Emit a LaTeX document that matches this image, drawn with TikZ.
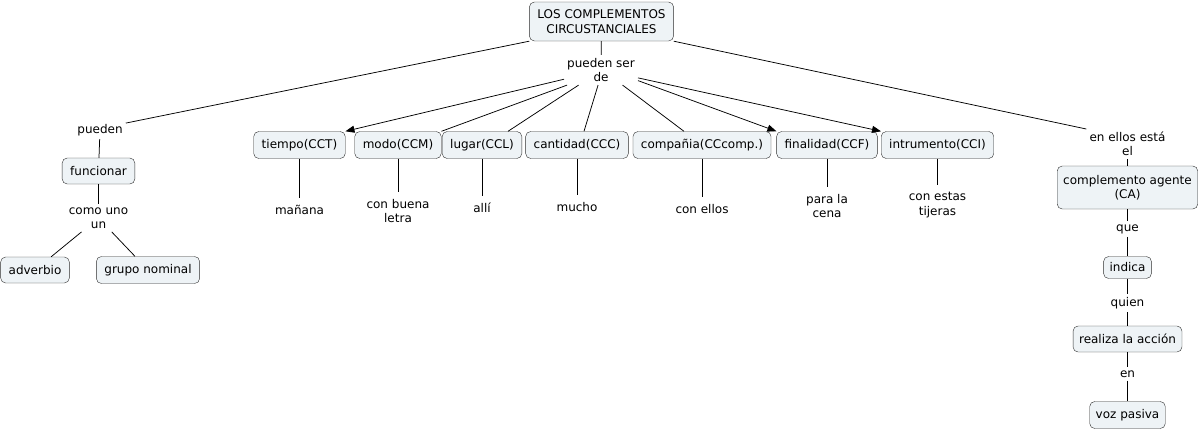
\documentclass[tikz,border=0pt]{standalone}
\usepackage{fontspec}
\setmainfont{DejaVu Sans}
\usetikzlibrary{arrows.meta}
\definecolor{boxfill}{RGB}{238,243,246}
\definecolor{boxline}{RGB}{45,45,45}
\begin{document}
\begin{tikzpicture}[x=1pt,y=-1pt,
    font=\fontsize{12}{14.5}\selectfont,
    concept/.style={draw=boxline,fill=boxfill,rounded corners=5pt,
      inner xsep=8pt,inner ysep=4pt,minimum height=27pt,align=center},
    phrase/.style={inner sep=3pt,align=center},
    example/.style={inner xsep=3pt,inner ysep=7pt,align=center},
    tip/.style={-{Triangle[length=9pt,width=7pt]}}]
  \useasboundingbox (0,0) rectangle (1202,429);
  \draw
    (601.5,21.5) node[concept,minimum height=39pt] (main){LOS COMPLEMENTOS\\CIRCUSTANCIALES}
    (601,70) node[phrase] (pser){pueden ser\\de}
    (100,130) node[phrase] (pueden){pueden}
    (98.5,171) node[concept,minimum height=26pt] (func){funcionar}
    (98.5,218) node[phrase] (como){como uno\\un}
    (35,270) node[concept,minimum height=26pt] (adverbio){adverbio}
    (148,270) node[concept] (grupo){grupo nominal}
    (299.5,145) node[concept] (tiempo){tiempo(CCT)}
    (398,145) node[concept] (modo){modo(CCM)}
    (482,145) node[concept] (lugar){lugar(CCL)}
    (577,145) node[concept] (cantidad){cantidad(CCC)}
    (702,145) node[concept] (comp){compañia(CCcomp.)}
    (827,145) node[concept] (final){finalidad(CCF)}
    (937.5,145) node[concept] (instr){intrumento(CCI)}
    (299.5,210) node[example] (manana){mañana}
    (398,211) node[example] (buena){con buena\\letra}
    (482,208) node[example] (alli){allí}
    (577,207) node[example] (mucho){mucho}
    (702,209) node[example] (ellos){con ellos}
    (827,206) node[example] (cena){para la\\cena}
    (937.5,205) node[example] (tijeras){con estas\\tijeras}
    (1127.5,144) node[phrase] (enellos){en ellos está\\el}
    (1127.5,187.5) node[concept,inner xsep=6pt,minimum height=43pt] (agente){complemento agente\\(CA)}
    (1127.5,229) node[phrase] (que){que}
    (1127.5,267.5) node[concept,inner xsep=6pt,minimum height=22pt] (indica){indica}
    (1127.5,303) node[phrase] (quien){quien}
    (1127.5,339) node[concept,inner xsep=6pt,minimum height=26pt] (accion){realiza la acción}
    (1127.5,374) node[phrase] (en){en}
    (1127.5,415) node[concept,inner xsep=6pt,minimum height=27pt] (pasiva){voz pasiva};
  \begin{scope}[line width=0.75pt]
    \draw (main) to (pser);
    \draw (main.south west) to (pueden.15);
    \draw (main.south east) to (enellos.160);
    \draw (pueden) to (func);
    \draw (func) to (como);
    \draw (como) to (adverbio);
    \draw (como) to (grupo);
    \draw[tip] (pser.194) to (tiempo.north east);
    \draw (pser.204) to (modo.north east);
    \draw (pser.214) to ([xshift=26pt]lugar.north);
    \draw (pser.259) to ([xshift=7pt]cantidad.north);
    \draw (pser.325) to ([xshift=-18pt]comp.north);
    \draw[tip] (pser.344) to (final.north west);
    \draw[tip] (pser.348) to (instr.north west);
    \draw (tiempo) to (manana);
    \draw (modo) to (buena);
    \draw (lugar) to (alli);
    \draw (cantidad) to (mucho);
    \draw (comp) to (ellos);
    \draw (final) to (cena);
    \draw (instr) to (tijeras);
    \draw (enellos) to (agente);
    \draw (agente) to (que);
    \draw (que) to (indica);
    \draw (indica) to (quien);
    \draw (quien) to (accion);
    \draw (accion) to (en);
    \draw (en) to (pasiva);
  \end{scope}
\end{tikzpicture}
\end{document}
